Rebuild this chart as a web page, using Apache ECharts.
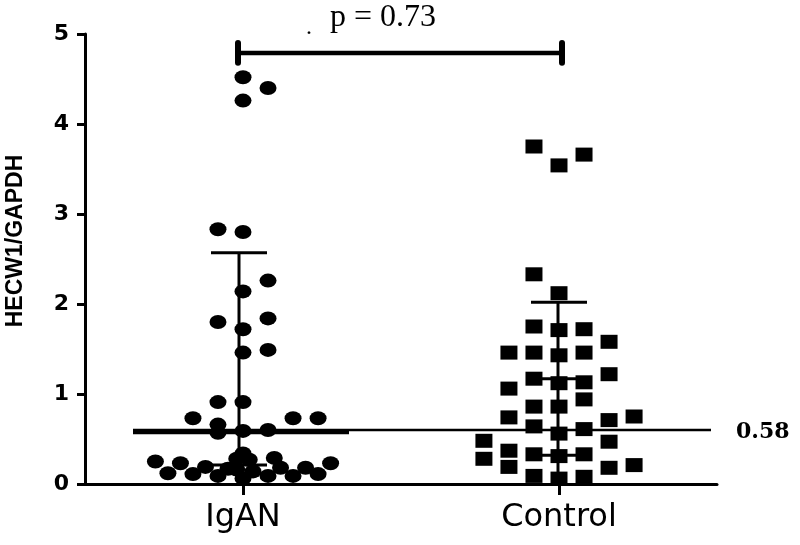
<!DOCTYPE html>
<html>
<head>
<meta charset="utf-8">
<script src="https://cdn.jsdelivr.net/npm/echarts@6/dist/echarts.min.js"></script>
<style>html,body{margin:0;padding:0;background:#fff}#chart{width:800px;height:545px}</style>
</head>
<body>
<div id="chart"></div>
<script>
// ---- data ----
const groups = ['IgAN', 'Control'];
const yTicks = [0, 1, 2, 3, 4, 5];

// IgAN values and their jitter slot (column index within the swarm)
const igaValues = [4.52, 4.40, 4.26, 2.83, 2.80, 2.26, 2.14, 1.80, 1.84, 1.72, 1.49, 1.46,
  0.91, 0.91, 0.73, 0.73, 0.73, 0.66, 0.57, 0.59, 0.60, 0.34,
  0.25, 0.12, 0.23, 0.11, 0.19, 0.09, 0.17, 0.28, 0.27, 0.06, 0.16, 0.14, 0.09, 0.29, 0.18, 0.09, 0.18, 0.11, 0.23];
const igaSlots = [0, 2, 0, -2, 0, 2, 0, -2, 2, 0, 2, 0,
  -2, 0, -4, 4, 6, -2, -2, 0, 2, 0,
  -7, -6, -5, -4, -3, -2, -1.2, -0.5, 0.5, 0, -0.5, 0.8, 2, 2.5, 3, 4, 5, 6, 7];

const ctlValues = [3.75, 3.54, 3.66, 2.33, 2.12,
  1.75, 1.71, 1.72, 1.58, 1.46, 1.46, 1.43, 1.46,
  1.22, 1.17, 1.12, 1.13, 1.06, 0.94, 0.86, 0.86,
  0.74, 0.71, 0.75, 0.64, 0.56, 0.61, 0.48, 0.47,
  0.37, 0.28, 0.33, 0.31, 0.33, 0.19, 0.18, 0.21, 0.09, 0.06, 0.08];
const ctlSlots = [-2, 0, 2, -2, 0,
  -2, 0, 2, 4, -4, -2, 0, 2,
  4, -2, 0, 2, -4, 2, -2, 0,
  -4, 4, 6, -2, 0, 2, -6, 4,
  -4, -6, -2, 0, 2, -4, 4, 6, -2, 0, 2];

// summary lines
const igaWhisker = [0.21, 2.57];      // low, high
const igaMedian = 0.58;
const ctlWhisker = [0.0, 2.02];
const ctlCaps = [2.02, 1.17, 0.32];
const refLineValue = 0.60;
const refLabel = '0.58';
const bracketValue = 4.79;
const bracketEnds = [4.68, 4.90];
const pText = 'p = 0.73';

// ---- layout ----
const SLOT = 0.0396; // one jitter slot in group units

const chart = echarts.init(document.getElementById('chart'), null, {renderer: 'canvas'});

function renderLines(params, api) {
  const ch = [];
  const line = (x1, y1, x2, y2, w, cap) => ch.push({
    type: 'line', shape: {x1, y1, x2, y2},
    style: {stroke: '#000', lineWidth: w, lineCap: cap || 'butt'}
  });
  const g0 = api.coord([0, 0])[0];
  const g1 = api.coord([1, 0])[0];
  const Y = v => api.coord([0, v])[1];
  // IgAN whisker
  line(g0 - 4, Y(igaWhisker[0]), g0 - 4, Y(igaWhisker[1]), 3);
  line(g0 - 32, Y(igaWhisker[1]), g0 + 24, Y(igaWhisker[1]), 3);
  line(g0 - 32, Y(igaWhisker[0]), g0 + 24, Y(igaWhisker[0]), 3);
  // reference line
  line(g0 - 110, Y(refLineValue), g1 + 152, Y(refLineValue), 2.5);
  // IgAN median
  line(g0 - 110, Y(igaMedian), g0 + 106, Y(igaMedian), 5);
  // Control whisker
  line(g1 - 1, Y(ctlWhisker[0]), g1 - 1, Y(ctlWhisker[1]), 3);
  ctlCaps.forEach((c, i) => {
    const hw = i === 0 ? 28 : 25;
    line(g1 - hw, Y(c), g1 + hw, Y(c), 3);
  });
  // bracket
  line(g0 - 5, Y(bracketValue), g1 + 3, Y(bracketValue), 4.5);
  line(g0 - 5, Y(bracketEnds[0]), g0 - 5, Y(bracketEnds[1]), 6, 'round');
  line(g1 + 3, Y(bracketEnds[0]), g1 + 3, Y(bracketEnds[1]), 6, 'round');
  // label of the reference line
  ch.push({
    type: 'text', x: g1 + 177, y: Y(0.58),
    style: {text: refLabel, font: 'bold 22px "DejaVu Serif"', fill: '#000', align: 'left', verticalAlign: 'middle'}
  });
  return {type: 'group', children: ch};
}

const option = {
  animation: false,
  backgroundColor: '#fff',
  grid: {left: 85, right: 83, top: 34, bottom: 61, containLabel: false},
  xAxis: [
    {
      type: 'category', data: groups, boundaryGap: true,
      axisLine: {onZero: false, lineStyle: {color: '#000', width: 3}},
      axisTick: {show: true, interval: 0, alignWithLabel: true, length: 11, lineStyle: {color: '#000', width: 3}},
      axisLabel: {color: '#000', fontFamily: 'DejaVu Sans', fontSize: 32, margin: 18},
      splitLine: {show: false}
    },
    {type: 'value', min: -0.5, max: 1.5, show: false, axisLine: {onZero: false}}
  ],
  yAxis: {
    type: 'value', min: yTicks[0], max: yTicks[yTicks.length - 1], interval: 1,
    axisLine: {show: true, onZero: false, lineStyle: {color: '#000', width: 3}},
    axisTick: {show: true, length: 8, lineStyle: {color: '#000', width: 3}},
    axisLabel: {color: '#000', fontFamily: 'DejaVu Sans', fontWeight: 'bold', fontSize: 22, margin: 16},
    splitLine: {show: false}
  },
  graphic: [
    {type: 'text', x: 383, y: 18, style: {text: pText, font: '32px "Liberation Serif"', fill: '#000', align: 'center', verticalAlign: 'middle'}},
    {type: 'text', x: 309, y: 40, style: {text: '.', font: '24px "Liberation Serif"', fill: '#000', align: 'center', verticalAlign: 'bottom'}},
    {type: 'text', x: 16, y: 241, rotation: Math.PI / 2, style: {text: 'HECW1/GAPDH', font: 'bold 23px "Liberation Sans"', fill: '#000', align: 'center', verticalAlign: 'middle'}}
  ],
  series: [
    {
      type: 'custom', xAxisIndex: 1, yAxisIndex: 0, renderItem: renderLines,
      data: [[0, 0]], z: 1, silent: true, clip: false
    },
    {
      name: 'IgAN', type: 'scatter', xAxisIndex: 1, yAxisIndex: 0, z: 2,
      symbol: 'circle', symbolSize: [17, 14],
      itemStyle: {color: '#000', opacity: 1},
      data: igaValues.map((v, i) => [0 + igaSlots[i] * SLOT, v])
    },
    {
      name: 'Control', type: 'scatter', xAxisIndex: 1, yAxisIndex: 0, z: 2,
      symbol: 'rect', symbolSize: [17, 14],
      itemStyle: {color: '#000', opacity: 1},
      data: ctlValues.map((v, i) => [1 + ctlSlots[i] * SLOT, v])
    }
  ]
};
chart.setOption(option);
</script>
</body>
</html>
